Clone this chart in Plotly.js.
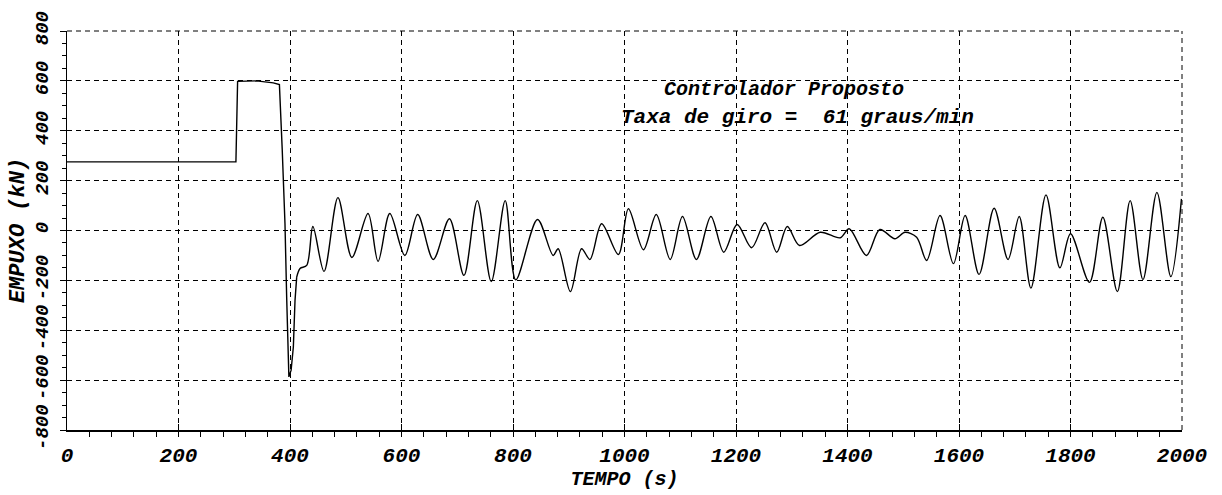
<!DOCTYPE html>
<html>
<head>
<meta charset="utf-8">
<script src="https://cdn.plot.ly/plotly-3.0.1.min.js"></script>
<style>
  html, body { margin: 0; padding: 0; background: #ffffff; }
  #chart { width: 1222px; height: 495px; }
</style>
</head>
<body>
<div id="chart"></div>
<script>
// Step / transient portion (time in s, thrust in kN)
const stepTime   = [0, 303, 306, 340, 370, 381, 386, 391, 394, 398, 402, 406, 409, 412];
const stepThrust = [275, 275, 598, 600, 592, 585, 327, 28, -267, -587, -560, -467, -280, -187];

// Oscillating portion (time in s, thrust in kN)
const oscTime = [412, 418, 430, 441, 461, 486, 511, 540, 558, 579, 606, 629, 657, 686, 712, 736, 761, 786, 805,
  844, 872, 881, 903, 923, 938, 959, 989, 1007, 1034, 1057, 1082, 1104, 1129, 1155, 1178, 1202, 1228, 1252,
  1273, 1292, 1314, 1351, 1387, 1403, 1434, 1458, 1485, 1503, 1524, 1542, 1566, 1590, 1611, 1636, 1663,
  1688, 1708, 1729, 1756, 1781, 1800, 1834, 1858, 1884, 1907, 1930, 1955, 1980, 1999];
const oscThrust = [-187, -152, -140, 16, -164, 132, -108, 68, -124, 68, -100, 64, -116, 47, -180, 120, -205, 120, -198,
  44, -100, -73, -245, -73, -116, 27, -96, 87, -77, 64, -116, 56, -116, 56, -87, 24, -69, 31,
  -87, 16, -60, -7, -29, 7, -100, 4, -33, -7, -27, -120, 60, -133, 60, -176, 89,
  -116, 56, -231, 143, -150, -13, -208, 53, -245, 120, -197, 153, -185, 127];

const xTickVals = [0, 200, 400, 600, 800, 1000, 1200, 1400, 1600, 1800, 2000];
const xTickText = ['0', '200', '400', '600', '800', '1000', '1200', '1400', '1600', '1800', '2000'];
const yTickVals = [-800, -600, -400, -200, 0, 200, 400, 600, 800];
const yTickText = ['-800', '-600', '-400', '-200', '0', '200', '400', '600', '800'];

const xTitle = 'TEMPO (s)';
const yTitle = 'EMPUXO (kN)';
const noteLine1 = 'Controlador Proposto';
const noteLine2 = 'Taxa de giro =\u00a0\u00a061 graus/min';

const FONT = 'Liberation Mono';
const lineStyle = { color: '#000000', width: 1.4 };
const f = (size) => ({ family: FONT, size: size, color: '#000', style: 'italic', weight: 'bold' });

const traces = [
  { x: stepTime, y: stepThrust, type: 'scatter', mode: 'lines', line: Object.assign({ shape: 'linear' }, lineStyle), showlegend: false, hoverinfo: 'skip' },
  { x: oscTime, y: oscThrust, type: 'scatter', mode: 'lines', line: Object.assign({ shape: 'spline', smoothing: 0.9 }, lineStyle), showlegend: false, hoverinfo: 'skip' }
];

const gridDash = '5px,4px';

const layout = {
  width: 1222, height: 495,
  margin: { l: 67, r: 40, t: 31, b: 65, pad: 0 },
  paper_bgcolor: '#ffffff', plot_bgcolor: '#ffffff',
  showlegend: false,
  xaxis: {
    range: [0, 2000], autorange: false,
    tickmode: 'array', tickvals: xTickVals, ticktext: xTickText,
    ticks: 'inside', ticklen: 6, tickwidth: 1, tickcolor: '#000',
    ticklabelstandoff: 5,
    tickfont: f(21),
    showline: true, linecolor: '#000', linewidth: 1.5, mirror: false,
    showgrid: true, gridcolor: '#000', gridwidth: 1, griddash: gridDash,
    zeroline: false,
    minor: { dtick: 40, ticks: 'outside', ticklen: 5, tickcolor: '#000', tickwidth: 1, showgrid: false },
    title: { text: xTitle, font: f(20), standoff: 2 }
  },
  yaxis: {
    range: [-800, 800], autorange: false,
    tickmode: 'array', tickvals: yTickVals, ticktext: yTickText,
    tickangle: -90,
    ticks: 'outside', ticklen: 6, tickwidth: 1, tickcolor: '#000',
    ticklabelstandoff: 4,
    tickfont: f(19),
    showline: true, linecolor: '#000', linewidth: 1.5, mirror: false,
    showgrid: true, gridcolor: '#000', gridwidth: 1, griddash: gridDash,
    zeroline: false,
    minor: { dtick: 50, ticks: 'outside', ticklen: 4, tickcolor: '#000', tickwidth: 1, showgrid: false },
    title: { text: yTitle, font: f(22), standoff: 1 }
  },
  shapes: [
    // dashed frame at the top (800) and right (2000) edges, as in the reference
    { type: 'line', xref: 'paper', yref: 'paper', x0: 0, x1: 1, y0: 1, y1: 1, line: { color: '#000', width: 1, dash: gridDash } },
    { type: 'line', xref: 'paper', yref: 'paper', x0: 1, x1: 1, y0: 0, y1: 1, line: { color: '#000', width: 1, dash: gridDash } }
  ],
  annotations: [
    { xref: 'paper', yref: 'paper', x: 0.643, y: 0.853, xanchor: 'center', yanchor: 'middle', showarrow: false,
      borderpad: 0, text: noteLine1, font: f(20) },
    { xref: 'paper', yref: 'paper', x: 0.655, y: 0.784, xanchor: 'center', yanchor: 'middle', showarrow: false,
      borderpad: 0, text: noteLine2, font: f(21) }
  ]
};

Plotly.newPlot('chart', traces, layout, { staticPlot: true, displayModeBar: false });
</script>
</body>
</html>
